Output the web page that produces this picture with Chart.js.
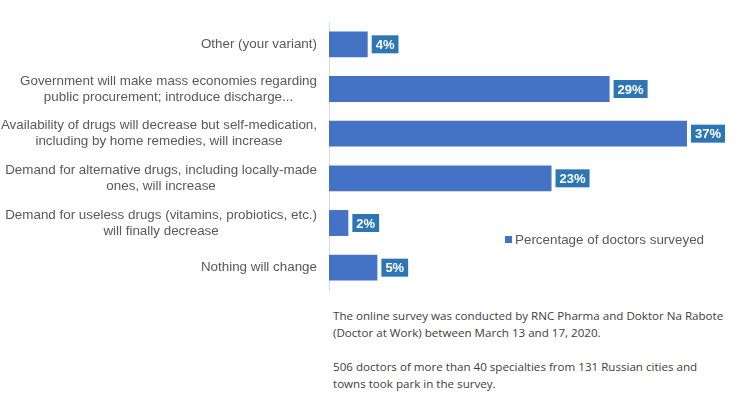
<!DOCTYPE html>
<html>
<head>
<meta charset="utf-8">
<script src="https://cdn.jsdelivr.net/npm/chart.js@4"></script>
<style>
  html, body { margin: 0; padding: 0; background: #ffffff; }
  #wrap { position: absolute; left: 0; top: 0; width: 747px; height: 300px; }
  #legend { position: absolute; left: 505px; top: 231px; font: 13.4px "Liberation Sans", Arial, sans-serif; color: #595959; white-space: nowrap; line-height: 18px; }
  #legend span.sw { display: inline-block; width: 7px; height: 7px; background: #4472C4; margin-right: 3px; vertical-align: 1px; }
  #note { position: absolute; left: 333px; top: 307px; font: 11.6px "Open Sans", "Liberation Sans", sans-serif; color: #404040; line-height: 17px; white-space: nowrap; }
</style>
</head>
<body>
<div id="wrap"><canvas id="c"></canvas></div>
<div id="legend"><span class="sw"></span>Percentage of doctors surveyed</div>
<div id="note">The online survey was conducted by RNC Pharma and Doktor Na Rabote<br>(Doctor at Work) between March 13 and 17, 2020.<br><br>506 doctors of more than 40 specialties from 131 Russian cities and<br>towns took park in the survey.</div>
<script>
const categories = [
  ["Other (your variant)"],
  ["Government will make mass economies regarding", "public procurement; introduce discharge..."],
  ["Availability of drugs will decrease but self-medication,", "including by home remedies, will increase"],
  ["Demand for alternative drugs, including locally-made", "ones, will increase"],
  ["Demand for useless drugs (vitamins, probiotics, etc.)", "will finally decrease"],
  ["Nothing will change"]
];
const values = [4, 29, 37, 23, 2, 5];
const seriesName = "Percentage of doctors surveyed";

Chart.defaults.font.family = '"Liberation Sans", Arial, sans-serif';

const yLabelPlugin = {
  id: 'yLabels',
  afterDraw(chart) {
    const ctx = chart.ctx;
    const ys = chart.scales.y;
    ctx.save();
    ctx.font = '13.4px "Liberation Sans", Arial, sans-serif';
    ctx.fillStyle = '#595959';
    ctx.textBaseline = 'middle';
    ctx.textAlign = 'center';
    categories.forEach((lines, i) => {
      const y = ys.getPixelForTick(i);
      const widths = lines.map(l => ctx.measureText(l).width);
      const bw = Math.max(...widths);
      const cx = 317 - bw / 2;
      const lh = 16;
      const start = y - (lines.length - 1) * lh / 2;
      lines.forEach((l, k) => ctx.fillText(l, cx, start + k * lh));
    });
    ctx.restore();
  }
};

const barLabelPlugin = {
  id: 'barLabels',
  afterDatasetsDraw(chart) {
    const ctx = chart.ctx;
    const meta = chart.getDatasetMeta(0);
    ctx.save();
    ctx.font = 'bold 13px "Liberation Sans", Arial, sans-serif';
    ctx.textBaseline = 'middle';
    ctx.textAlign = 'left';
    meta.data.forEach((bar, i) => {
      const txt = values[i] + '%';
      const w = ctx.measureText(txt).width + 8;
      const h = 18;
      const x = bar.x + 4;
      const y = bar.y - h / 2;
      ctx.fillStyle = '#2E75B6';
      ctx.fillRect(x, y, w, h);
      ctx.fillStyle = '#ffffff';
      ctx.fillText(txt, x + 4, bar.y + 1);
    });
    ctx.restore();
  }
};

new Chart(document.getElementById('c'), {
  type: 'bar',
  data: {
    labels: categories,
    datasets: [{
      label: seriesName,
      data: values,
      backgroundColor: '#4472C4',
      borderWidth: 0,
      categoryPercentage: 1,
      barPercentage: 0.58
    }]
  },
  plugins: [yLabelPlugin, barLabelPlugin],
  options: {
    indexAxis: 'y',
    responsive: true,
    maintainAspectRatio: false,
    animation: false,
    layout: { padding: { top: 22, bottom: 10, left: 0, right: 31 } },
    plugins: { legend: { display: false }, tooltip: { enabled: false } },
    scales: {
      x: { display: false, min: 0, max: 40 },
      y: {
        grid: { display: false },
        border: { display: true, color: '#D9D9D9', width: 1 },
        ticks: { display: false },
        afterFit(scale) { scale.width = 329; }
      }
    }
  }
});
</script>
</body>
</html>
